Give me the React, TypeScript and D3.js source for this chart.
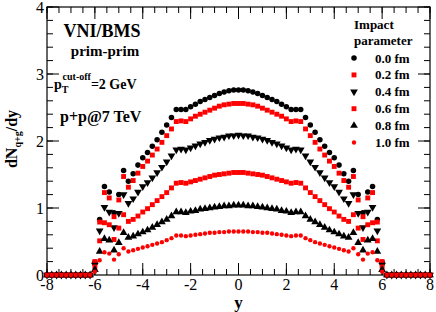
import React from "react";
import * as d3 from "d3";

// rapidity bins
const rapidity = [
  -8.0, -7.8, -7.6, -7.4, -7.2, -7.0, -6.8, -6.6, -6.4, -6.2,
  -6.0, -5.8, -5.6, -5.4, -5.2, -5.0, -4.8, -4.6, -4.4, -4.2,
  -4.0, -3.8, -3.6, -3.4, -3.2, -3.0, -2.8, -2.6, -2.4, -2.2,
  -2.0, -1.8, -1.6, -1.4, -1.2, -1.0, -0.8, -0.6, -0.4, -0.2,
  0.0,
  0.2, 0.4, 0.6, 0.8, 1.0, 1.2, 1.4, 1.6, 1.8, 2.0,
  2.2, 2.4, 2.6, 2.8, 3.0, 3.2, 3.4, 3.6, 3.8, 4.0,
  4.2, 4.4, 4.6, 4.8, 5.0, 5.2, 5.4, 5.6, 5.8, 6.0,
  6.2, 6.4, 6.6, 6.8, 7.0, 7.2, 7.4, 7.6, 7.8, 8.0,
];

const b00 = [
  0, 0, 0, 0, 0, 0, 0, 0, 0, 0,
  0.19, 0.83, 1.32, 1.24, 0.93, 1.2, 1.56, 1.4, 1.51, 1.64,
  1.75, 1.83, 1.92, 2.02, 2.13, 2.24, 2.35, 2.47, 2.47, 2.47,
  2.51, 2.55, 2.59, 2.62, 2.65, 2.68, 2.71, 2.73, 2.75, 2.76,
  2.76,
  2.76, 2.75, 2.73, 2.71, 2.68, 2.65, 2.62, 2.59, 2.55, 2.51,
  2.47, 2.47, 2.47, 2.35, 2.24, 2.13, 2.02, 1.92, 1.83, 1.75,
  1.64, 1.51, 1.4, 1.56, 1.2, 0.93, 1.24, 1.32, 0.83, 0.19,
  0, 0, 0, 0, 0, 0, 0, 0, 0, 0,
];

const b02 = [
  0, 0, 0, 0, 0, 0, 0, 0, 0, 0,
  0.2, 0.79, 1.23, 1.15, 0.87, 1.12, 1.47, 1.31, 1.41, 1.52,
  1.62, 1.7, 1.79, 1.88, 1.98, 2.08, 2.18, 2.29, 2.3, 2.29,
  2.33, 2.37, 2.4, 2.43, 2.46, 2.49, 2.52, 2.54, 2.55, 2.56,
  2.56,
  2.56, 2.55, 2.54, 2.52, 2.49, 2.46, 2.43, 2.4, 2.37, 2.33,
  2.29, 2.3, 2.29, 2.18, 2.08, 1.98, 1.88, 1.79, 1.7, 1.62,
  1.52, 1.41, 1.31, 1.47, 1.12, 0.87, 1.15, 1.23, 0.79, 0.2,
  0, 0, 0, 0, 0, 0, 0, 0, 0, 0,
];

const b04 = [
  0, 0, 0, 0, 0, 0, 0, 0, 0, 0,
  0.15, 0.66, 1.01, 0.94, 0.71, 0.92, 1.2, 1.07, 1.14, 1.24,
  1.32, 1.38, 1.45, 1.53, 1.61, 1.69, 1.78, 1.87, 1.88, 1.87,
  1.9, 1.93, 1.96, 1.98, 2.01, 2.03, 2.05, 2.06, 2.08, 2.08,
  2.09,
  2.08, 2.08, 2.06, 2.05, 2.03, 2.01, 1.98, 1.96, 1.93, 1.9,
  1.87, 1.88, 1.87, 1.78, 1.69, 1.61, 1.53, 1.45, 1.38, 1.32,
  1.24, 1.14, 1.07, 1.2, 0.92, 0.71, 0.94, 1.01, 0.66, 0.15,
  0, 0, 0, 0, 0, 0, 0, 0, 0, 0,
];

const b06 = [
  0, 0, 0, 0, 0, 0, 0, 0, 0, 0,
  0.12, 0.51, 0.78, 0.75, 0.53, 0.7, 0.9, 0.8, 0.83, 0.88,
  0.94, 0.99, 1.05, 1.11, 1.17, 1.23, 1.3, 1.37, 1.38, 1.37,
  1.39, 1.41, 1.43, 1.45, 1.47, 1.49, 1.5, 1.51, 1.52, 1.53,
  1.53,
  1.53, 1.52, 1.51, 1.5, 1.49, 1.47, 1.45, 1.43, 1.41, 1.39,
  1.37, 1.38, 1.37, 1.3, 1.23, 1.17, 1.11, 1.05, 0.99, 0.94,
  0.88, 0.83, 0.8, 0.9, 0.7, 0.53, 0.75, 0.78, 0.51, 0.12,
  0, 0, 0, 0, 0, 0, 0, 0, 0, 0,
];

const b08 = [
  0, 0, 0, 0, 0, 0, 0, 0, 0, 0,
  0.08, 0.35, 0.54, 0.52, 0.37, 0.48, 0.63, 0.56, 0.58, 0.61,
  0.64, 0.67, 0.71, 0.75, 0.79, 0.83, 0.88, 0.94, 0.94, 0.93,
  0.95, 0.96, 0.98, 0.99, 1.0, 1.01, 1.02, 1.03, 1.03, 1.04,
  1.04,
  1.04, 1.03, 1.03, 1.02, 1.01, 1.0, 0.99, 0.98, 0.96, 0.95,
  0.93, 0.94, 0.94, 0.88, 0.83, 0.79, 0.75, 0.71, 0.67, 0.64,
  0.61, 0.58, 0.56, 0.63, 0.48, 0.37, 0.52, 0.54, 0.35, 0.08,
  0, 0, 0, 0, 0, 0, 0, 0, 0, 0,
];

const b10 = [
  0, 0, 0, 0, 0, 0, 0, 0, 0, 0,
  0.05, 0.22, 0.34, 0.32, 0.23, 0.31, 0.4, 0.35, 0.37, 0.39,
  0.41, 0.43, 0.45, 0.47, 0.49, 0.52, 0.55, 0.59, 0.59, 0.58,
  0.59, 0.6, 0.61, 0.62, 0.63, 0.63, 0.64, 0.64, 0.65, 0.65,
  0.65,
  0.65, 0.65, 0.64, 0.64, 0.63, 0.63, 0.62, 0.61, 0.6, 0.59,
  0.58, 0.59, 0.59, 0.55, 0.52, 0.49, 0.47, 0.45, 0.43, 0.41,
  0.39, 0.37, 0.35, 0.4, 0.31, 0.23, 0.32, 0.34, 0.22, 0.05,
  0, 0, 0, 0, 0, 0, 0, 0, 0, 0,
];

const legendLabels = ["0.0 fm", "0.2 fm", "0.4 fm", "0.6 fm", "0.8 fm", "1.0 fm"];
const xTicks = [-8, -6, -4, -2, 0, 2, 4, 6, 8];
const yTicks = [0, 1, 2, 3, 4];

const W = 436;
const H = 312;
const margin = { top: 7, right: 6, bottom: 37, left: 47 };
const FONT = "'Liberation Serif', 'Times New Roman', serif";

const series = [
  { values: b00, type: d3.symbolCircle, size: 24, color: "#000", rot: 0 },
  { values: b02, type: d3.symbolSquare, size: 24, color: "#ff0000", rot: 0 },
  { values: b04, type: d3.symbolTriangle, size: 26, color: "#000", rot: 180 },
  { values: b06, type: d3.symbolSquare, size: 24, color: "#ff0000", rot: 0 },
  { values: b08, type: d3.symbolTriangle, size: 26, color: "#000", rot: 0 },
  { values: b10, type: d3.symbolCircle, size: 15, color: "#ff0000", rot: 0 },
];

export default function App() {
  const x = d3.scaleLinear().domain([-8, 8]).range([margin.left, W - margin.right]);
  const y = d3.scaleLinear().domain([0, 4]).range([H - margin.bottom, margin.top]);
  const x0 = margin.left, x1 = W - margin.right, y0 = H - margin.bottom, y1 = margin.top;

  const xMinor = d3.range(-8, 8.001, 0.5);
  const yMinor = d3.range(0, 4.001, 0.2);

  return (
    <svg width={W} height={H} style={{ position: "absolute", left: 0, top: 0, background: "#fff" }}
      fontFamily={FONT}>
      <rect x={0} y={0} width={W} height={H} fill="#fff" />
      {/* minor ticks */}
      {xMinor.map((t, i) => (
        <g key={"xm" + i} stroke="#000" strokeWidth={1}>
          <line x1={x(t)} x2={x(t)} y1={y0} y2={y0 - 6} />
          <line x1={x(t)} x2={x(t)} y1={y1} y2={y1 + 6} />
        </g>
      ))}
      {yMinor.map((t, i) => (
        <g key={"ym" + i} stroke="#000" strokeWidth={1}>
          <line x1={x0} x2={x0 + 6} y1={y(t)} y2={y(t)} />
          <line x1={x1} x2={x1 - 6} y1={y(t)} y2={y(t)} />
        </g>
      ))}
      {/* major ticks + labels */}
      {xTicks.map((t) => (
        <g key={"xt" + t}>
          <line x1={x(t)} x2={x(t)} y1={y0} y2={y0 - 12} stroke="#000" />
          <line x1={x(t)} x2={x(t)} y1={y1} y2={y1 + 12} stroke="#000" />
          <text x={x(t)} y={y0 + 15} textAnchor="middle" fontSize={16}>{t < 0 ? "-" + Math.abs(t) : t}</text>
        </g>
      ))}
      {yTicks.map((t) => (
        <g key={"yt" + t}>
          <line x1={x0} x2={x0 + 12} y1={y(t)} y2={y(t)} stroke="#000" />
          <line x1={x1} x2={x1 - 12} y1={y(t)} y2={y(t)} stroke="#000" />
          <text x={x0 - 3} y={y(t) + 5.5} textAnchor="end" fontSize={16}>{t}</text>
        </g>
      ))}
      <rect x={x0} y={y1} width={x1 - x0} height={y0 - y1} fill="none" stroke="#000" strokeWidth={1.2} />

      {/* data */}
      {series.map((s, si) => {
        const path = d3.symbol().type(s.type).size(s.size)() as string;
        return (
          <g key={"s" + si} fill={s.color}>
            {rapidity.map((r, i) => (
              <path key={i} d={path}
                transform={`translate(${x(r)},${y(s.values[i])}) rotate(${s.rot})`} />
            ))}
          </g>
        );
      })}

      {/* annotations */}
      <g fontWeight="bold">
        <text x={102} y={37} textAnchor="middle" fontSize={18}>VNI/BMS</text>
        <text x={105} y={56} textAnchor="middle" fontSize={15}>prim-prim</text>
        <text x={54} y={89} fontSize={14}>
          p<tspan fontSize={10} dy={4}>T</tspan>
          <tspan fontSize={10} dy={-13} dx={-5}>cut-off</tspan>
          <tspan fontSize={14} dy={9}>=2 GeV</tspan>
        </text>
        <text x={60} y={122} fontSize={16}>p+p@7 TeV</text>

        <text x={354} y={29} fontSize={13}>Impact</text>
        <text x={354} y={45} fontSize={13}>parameter</text>
        {legendLabels.map((lab, i) => {
          const s = series[i];
          const ly = 58 + i * 16.9;
          const path = d3.symbol().type(s.type).size(s.size)() as string;
          return (
            <g key={lab}>
              <path d={path} fill={s.color} transform={`translate(354,${ly}) rotate(${s.rot})`} />
              <text x={375} y={ly + 4.5} fontSize={13}>{lab}</text>
            </g>
          );
        })}

        <text x={x(0)} y={308} textAnchor="middle" fontSize={17}>y</text>
        <text transform={`translate(17,139) rotate(-90)`} textAnchor="middle" fontSize={16}>
          dN<tspan fontSize={10} dy={4}>q+g</tspan><tspan dy={-4}>/dy</tspan>
        </text>
      </g>
    </svg>
  );
}
